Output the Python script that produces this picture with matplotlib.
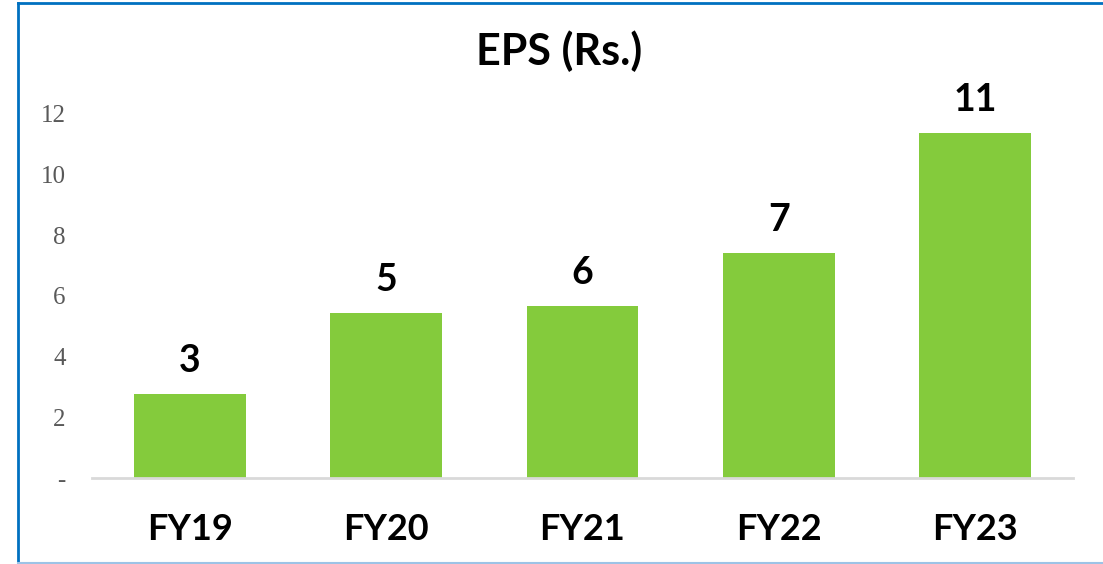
import matplotlib.pyplot as plt
from matplotlib.lines import Line2D

# EPS values
years = ["FY19", "FY20", "FY21", "FY22", "FY23"]
eps = [2.77, 5.44, 5.67, 7.42, 11.37]
eps_labels = ["3", "5", "6", "7", "11"]
yticks = [0, 2, 4, 6, 8, 10, 12]
ytick_labels = ["-", "2", "4", "6", "8", "10", "12"]

fig = plt.figure(figsize=(11.03, 5.64), dpi=100)
ax = fig.add_axes([92/1103, 1-478/564, (1073-92)/1103, (478-114)/564])

x = range(len(years))
ax.bar(x, eps, width=0.57, color='#84CB3C', zorder=2)

for xi, v, lab in zip(x, eps, eps_labels):
    ax.text(xi, v + 0.73, lab, ha='center', va='baseline', fontsize=27,
            fontweight='bold', family='Lato', color='black', clip_on=False)

ax.set_xlim(-0.5, 4.5)
ax.set_ylim(0, 12)
ax.set_yticks(yticks)
ax.set_yticklabels(ytick_labels, family='Liberation Serif', fontsize=18, color='#595959')
ax.set_xticks(list(x))
ax.set_xticklabels(years, family='Lato', fontsize=26, fontweight='bold', color='black')
ax.tick_params(axis='y', length=0, pad=19)
ax.tick_params(axis='x', length=0, pad=25)

for s in ['top', 'right', 'left']:
    ax.spines[s].set_visible(False)
ax.spines['bottom'].set_color('#D9D9D9')
ax.spines['bottom'].set_linewidth(2)

fig.text(0.507, 1-51/564, "EPS (Rs.)", ha='center', va='center', fontsize=31,
         fontweight='bold', family='Lato')

# blue frame
fig.add_artist(Line2D([17.5/1103, 17.5/1103], [0, 1-2.5/564], color='#0070C0', lw=2, transform=fig.transFigure))
fig.add_artist(Line2D([17.5/1103, 1], [1-2.5/564, 1-2.5/564], color='#0070C0', lw=2, transform=fig.transFigure))
fig.add_artist(Line2D([17.5/1103, 1], [1-562.5/564, 1-562.5/564], color='#9DC3E6', lw=1.5, transform=fig.transFigure))

fig.savefig('out.png', dpi=100)
